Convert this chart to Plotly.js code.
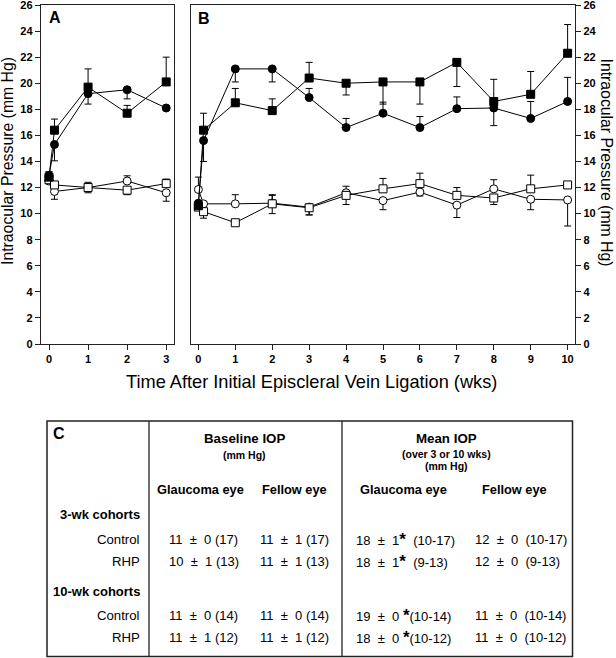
<!DOCTYPE html>
<html>
<head>
<meta charset="utf-8">
<script src="https://cdn.plot.ly/plotly-3.0.1.min.js"></script>
<style>html,body{margin:0;padding:0;background:#fff;}#chart{width:616px;height:658px;}</style>
</head>
<body>
<div id="chart"></div>
<script>
// ---------- DATA ----------
// Panel A (3-wk cohorts)
const weeksA = [0, 0.14, 1, 2, 3];
const ctrlGlaucA = [12.9, 15.3, 19.2, 19.5, 18.1];      // filled circle
const ctrlGlaucA_up = [0, 0, 0, 0, 0];
const ctrlGlaucA_dn = [0, 1.25, 0.8, 0.7, 0];
const rhpGlaucA = [12.8, 16.4, 19.7, 17.7, 20.1];       // filled square
const rhpGlaucA_up = [0.4, 0.85, 1.4, 0.6, 1.9];
const rhpGlaucA_dn = [0, 0, 0, 0, 0];
const ctrlFellowA = [12.5, 11.7, 12.0, 12.5, 11.6];     // open circle
const ctrlFellowA_up = [0.3, 0, 0.4, 0.4, 0];
const ctrlFellowA_dn = [0, 0.6, 0, 0, 0.65];
const rhpFellowA = [12.6, 12.2, 12.0, 11.8, 12.3];      // open square
const rhpFellowA_up = [0.6, 0, 0, 0, 0.35];
const rhpFellowA_dn = [0, 0, 0.4, 0.35, 0];

// Panel B (10-wk cohorts)
const weeksB = [0, 0.14, 1, 2, 3, 4, 5, 6, 7, 8, 9, 10];
const ctrlGlaucB = [10.8, 15.6, 21.1, 21.1, 18.9, 16.6, 17.7, 16.6, 18.05, 18.1, 17.3, 18.6];
const ctrlGlaucB_up = [0, 0, 0, 0, 0.7, 0.7, 0.85, 0.85, 0.9, 0, 1.3, 1.85];
const ctrlGlaucB_dn = [0, 1.6, 1.0, 1.0, 0, 0, 0, 0, 0, 1.35, 0, 0];
const rhpGlaucB = [10.6, 16.4, 18.5, 17.9, 20.4, 20.0, 20.1, 20.1, 21.6, 18.6, 19.15, 22.3];
const rhpGlaucB_up = [0, 1.3, 1.1, 0.9, 1.2, 0, 0, 0, 0, 1.7, 1.75, 2.2];
const rhpGlaucB_dn = [0, 0, 0, 0, 0, 0.9, 1.7, 1.7, 1.85, 0, 0, 0];
const ctrlFellowB = [11.85, 10.75, 10.75, 10.8, 10.5, 11.6, 11.0, 11.65, 10.65, 11.9, 11.1, 11.05];
const ctrlFellowB_up = [0.95, 0, 0.7, 0.6, 0, 0.5, 0, 0, 0, 0.7, 0, 0];
const ctrlFellowB_dn = [0, 0, 0, 0, 0.6, 0, 0.7, 0.3, 0.95, 0, 0.8, 2.0];
const rhpFellowB = [10.5, 10.15, 9.3, 10.75, 10.45, 11.4, 11.9, 12.3, 11.4, 11.2, 11.9, 12.2];
const rhpFellowB_up = [0, 0, 0, 0.7, 0, 0, 0.8, 0.8, 0.6, 0, 1.05, 0];
const rhpFellowB_dn = [0, 0.5, 0.2, 0.75, 0.55, 0.7, 0, 0, 0, 0.5, 0, 0];

const yTicks = [0, 2, 4, 6, 8, 10, 12, 14, 16, 18, 20, 22, 24, 26];
const xTicksA = [0, 1, 2, 3];
const xTicksB = [0, 1, 2, 3, 4, 5, 6, 7, 8, 9, 10];

// Table C
const S = '\u00a0';
const PM = '\u00b1';
const tableRowLabels = ["Control", "RHP", "Control", "RHP"];
const baselineGlauc = ["11 ± 0 (17)", "10 ± 1 (13)", "11 ± 0 (14)", "11 ± 1 (12)"];
const baselineFellow = ["11 ± 1 (17)", "11 ± 1 (13)", "11 ± 0 (14)", "11 ± 1 (12)"];
const meanGlaucNum = ["18 ± 1", "18 ± 1", "19 ± 0", "18 ± 0"];
const meanGlaucN = ["(10-17)", "(9-13)", "(10-14)", "(10-12)"];
const meanFellow = ["12 ± 0 (10-17)", "12 ± 0 (9-13)", "11 ± 0 (10-14)", "11 ± 0 (10-12)"];

// ---------- STYLE ----------
const FONT = "Arial, 'Liberation Sans', sans-serif";
const W = 616, H = 658;
const px = x => x / W;
const py = y => 1 - y / H;
// widen spacing around the ± sign as in the printed table
const wide = s => s.replace(' ± ', S + ' ' + PM + S + ' ');

function series(x, y, up, dn, xa, ya, symbol, fill) {
  return {
    type: 'scatter', mode: 'lines+markers', x: x, y: y, xaxis: xa, yaxis: ya,
    line: {color: '#000', width: 1},
    marker: {symbol: symbol, size: 8, color: fill, line: {color: '#000', width: 1}},
    error_y: {type: 'data', symmetric: false, array: up, arrayminus: dn,
              color: '#000', thickness: 1, width: 3.5},
    showlegend: false, cliponaxis: false
  };
}

const data = [
  series(weeksA, ctrlFellowA, ctrlFellowA_up, ctrlFellowA_dn, 'x', 'y', 'circle', '#fff'),
  series(weeksA, rhpFellowA, rhpFellowA_up, rhpFellowA_dn, 'x', 'y', 'square', '#fff'),
  series(weeksA, ctrlGlaucA, ctrlGlaucA_up, ctrlGlaucA_dn, 'x', 'y', 'circle', '#000'),
  series(weeksA, rhpGlaucA, rhpGlaucA_up, rhpGlaucA_dn, 'x', 'y', 'square', '#000'),
  series(weeksB, ctrlFellowB, ctrlFellowB_up, ctrlFellowB_dn, 'x2', 'y2', 'circle', '#fff'),
  series(weeksB, rhpFellowB, rhpFellowB_up, rhpFellowB_dn, 'x2', 'y2', 'square', '#fff'),
  series(weeksB, ctrlGlaucB, ctrlGlaucB_up, ctrlGlaucB_dn, 'x2', 'y2', 'circle', '#000'),
  series(weeksB, rhpGlaucB, rhpGlaucB_up, rhpGlaucB_dn, 'x2', 'y2', 'square', '#000')
];

const tickFont = {family: FONT, size: 11, color: '#000', weight: 'bold'};
const axBase = {
  showgrid: false, zeroline: false, showline: true, linecolor: '#222', linewidth: 1.2,
  mirror: true, ticks: 'outside', ticklen: 5, tickwidth: 1, tickcolor: '#222',
  tickfont: tickFont, fixedrange: true, ticklabeloverflow: 'allow'
};

const yDom = [py(344), py(5)];

const annotations = [
  {text: '<b>A</b>', x: px(47), y: py(17.5), xref: 'paper', yref: 'paper', xanchor: 'left', yanchor: 'middle', showarrow: false, font: {family: FONT, size: 16, color: '#000'}},
  {text: '<b>B</b>', x: px(195.5), y: py(18.5), xref: 'paper', yref: 'paper', xanchor: 'left', yanchor: 'middle', showarrow: false, font: {family: FONT, size: 16, color: '#000'}},
  {text: 'Intraocular Pressure (mm Hg)', x: px(8), y: py(161), xref: 'paper', yref: 'paper', textangle: -90, xanchor: 'center', yanchor: 'middle', showarrow: false, font: {family: FONT, size: 15.8, color: '#000'}},
  {text: 'Intraocular Pressure (mm Hg)', x: px(606.5), y: py(162), xref: 'paper', yref: 'paper', textangle: 90, xanchor: 'center', yanchor: 'middle', showarrow: false, font: {family: FONT, size: 15.8, color: '#000'}},
  {text: 'Time After Initial Episcleral Vein Ligation (wks)', x: px(311), y: py(382), xref: 'paper', yref: 'paper', xanchor: 'center', yanchor: 'middle', showarrow: false, font: {family: FONT, size: 18.2, color: '#000'}}
];

function txt(t, x, y, size, anchor, bold) {
  annotations.push({text: bold ? '<b>' + t + '</b>' : t, x: px(x), y: py(y), xref: 'paper', yref: 'paper',
    xanchor: anchor, yanchor: 'middle', showarrow: false, font: {family: FONT, size: size, color: '#000'}});
}

// Table headers
txt('C', 51, 434, 16, 'left', true);
txt('Baseline IOP', 244, 438, 13.3, 'center', true);
txt('(mm Hg)', 244, 455, 10.5, 'center', true);
txt('Mean IOP', 446, 438, 13.3, 'center', true);
txt('(over 3 or 10 wks)', 446, 454, 10.5, 'center', true);
txt('(mm Hg)', 446, 466, 10.5, 'center', true);
txt('Glaucoma eye', 200, 489, 12.8, 'center', true);
txt('Fellow eye', 294, 489, 12.8, 'center', true);
txt('Glaucoma eye', 403, 489, 12.8, 'center', true);
txt('Fellow eye', 514, 489, 12.8, 'center', true);
txt('3-wk cohorts', 142, 514, 13, 'right', true);
txt('10-wk cohorts', 142, 591, 13, 'right', true);

const STAR = '<b><span style="font-size:17px">*</span></b>';
const rowY = [539, 561, 615, 637];
for (let i = 0; i < 4; i++) {
  txt(tableRowLabels[i], 142, rowY[i], 13.2, 'right', false);
  txt(wide(baselineGlauc[i]), 167, rowY[i], 13, 'left', false);
  txt(wide(baselineFellow[i]), 258, rowY[i], 13, 'left', false);
  let g;
  if (i < 2) g = wide(meanGlaucNum[i]) + STAR + S + ' ' + meanGlaucN[i];
  else g = wide(meanGlaucNum[i]) + S + STAR + meanGlaucN[i];
  txt(g, 354, rowY[i], 13, 'left', false);
  txt(wide(meanFellow[i]).replace(/ \(/, S + ' ('), 473, rowY[i], 13, 'left', false);
}

const shapes = [
  {type: 'rect', xref: 'paper', yref: 'paper', x0: px(47), x1: px(572.5), y0: py(656.5), y1: py(421), line: {color: '#222', width: 1.5}},
  {type: 'line', xref: 'paper', yref: 'paper', x0: px(149), x1: px(149), y0: py(656.5), y1: py(421), line: {color: '#222', width: 1.3}},
  {type: 'line', xref: 'paper', yref: 'paper', x0: px(342), x1: px(342), y0: py(656.5), y1: py(421), line: {color: '#222', width: 1.3}}
];

const layout = {
  width: W, height: H,
  margin: {l: 0, r: 0, t: 0, b: 0},
  paper_bgcolor: '#fff', plot_bgcolor: '#fff',
  showlegend: false,
  xaxis: Object.assign({}, axBase, {domain: [px(41), px(174)], range: [-0.205, 3.2], tickvals: xTicksA, anchor: 'y'}),
  yaxis: Object.assign({}, axBase, {domain: yDom, range: [0, 26], tickvals: yTicks, anchor: 'x', side: 'left'}),
  xaxis2: Object.assign({}, axBase, {domain: [px(191), px(575)], range: [-0.2, 10.2], tickvals: xTicksB, anchor: 'y2'}),
  yaxis2: Object.assign({}, axBase, {domain: yDom, range: [0, 26], tickvals: yTicks, anchor: 'x2', side: 'right'}),
  annotations: annotations,
  shapes: shapes
};

Plotly.newPlot('chart', data, layout, {displayModeBar: false, staticPlot: true});
</script>
</body>
</html>
